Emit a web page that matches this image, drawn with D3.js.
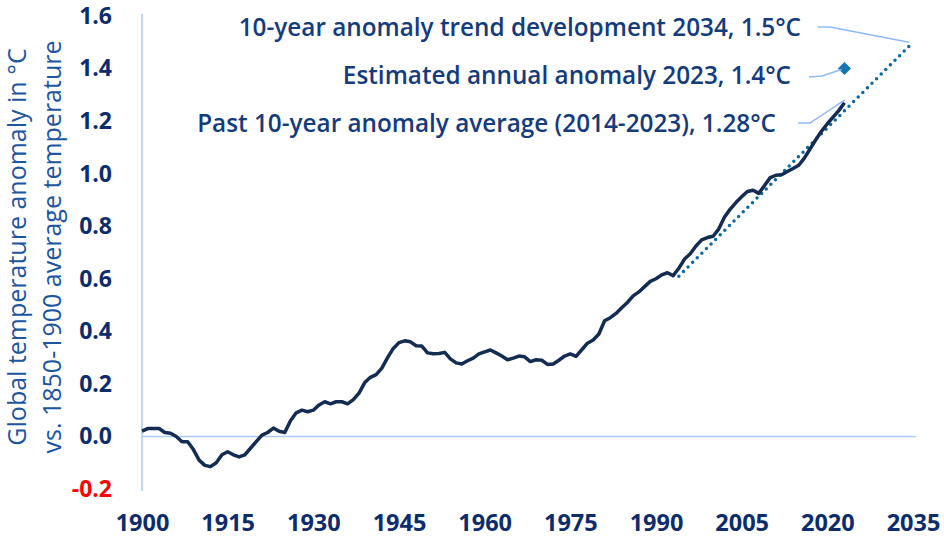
<!DOCTYPE html>
<html>
<head>
<meta charset="utf-8">
<script src="https://cdn.jsdelivr.net/npm/d3@7"></script>
<style>
  body { margin: 0; background: #fff; }
  svg { display: block; font-family: "Open Sans", sans-serif; }
</style>
</head>
<body>
<div id="chart"></div>
<script>
//Width and height
var w = 944;
var h = 541;

//10-year rolling anomaly, 1900-2023
var years = d3.range(1900, 2024);
var anomaly = [
  0.02, 0.03, 0.03, 0.03, 0.015, 0.012, 0.0, -0.02, -0.02, -0.05,
  -0.09, -0.11, -0.115, -0.10, -0.07, -0.058, -0.07, -0.078, -0.07, -0.045,
  -0.02, 0.005, 0.015, 0.032, 0.02, 0.015, 0.06, 0.09, 0.10, 0.094,
  0.10, 0.12, 0.132, 0.124, 0.132, 0.132, 0.124, 0.14, 0.165, 0.205,
  0.225, 0.235, 0.26, 0.30, 0.335, 0.357, 0.364, 0.36, 0.345, 0.344,
  0.318, 0.315, 0.316, 0.32, 0.295, 0.28, 0.276, 0.288, 0.298, 0.314,
  0.322, 0.329, 0.318, 0.306, 0.292, 0.298, 0.306, 0.303, 0.285, 0.292,
  0.29, 0.274, 0.276, 0.29, 0.306, 0.314, 0.305, 0.33, 0.355, 0.367,
  0.39, 0.44, 0.452, 0.468, 0.49, 0.51, 0.535, 0.55, 0.57, 0.59,
  0.60, 0.615, 0.623, 0.612, 0.64, 0.675, 0.695, 0.725, 0.748, 0.757,
  0.762, 0.79, 0.835, 0.865, 0.89, 0.912, 0.932, 0.937, 0.925, 0.955,
  0.985, 0.994, 0.996, 1.008, 1.02, 1.032, 1.06, 1.095, 1.13, 1.162,
  1.19, 1.215, 1.24, 1.27
];

//trend line and 2023 estimate
var trendYears = [1994, 2035];
var trendValues = [0.61, 1.5];
var estimateYear = 2023;
var estimateValue = 1.4;

//tick labels
var xTicks = [1900, 1915, 1930, 1945, 1960, 1975, 1990, 2005, 2020, 2035];
var yTicks = [-0.2, 0, 0.2, 0.4, 0.6, 0.8, 1.0, 1.2, 1.4, 1.6];

var x = d3.scaleLinear().domain([1900, 2035]).range([142, 913]);
var y = d3.scaleLinear().domain([-0.2, 1.6]).range([489, 16]);

//Create SVG element
var svg = d3.select("#chart")
  .append("svg")
  .attr("width", w)
  .attr("height", h);

//axis lines
svg.append("line")
  .attr("x1", x(1900)).attr("x2", x(1900))
  .attr("y1", y(1.6) - 2).attr("y2", y(-0.2) + 2)
  .attr("stroke", "#a9cbfb").attr("stroke-width", 1.5);

svg.append("line")
  .attr("x1", x(1900)).attr("x2", 916)
  .attr("y1", y(0)).attr("y2", y(0))
  .attr("stroke", "#a9cbfb").attr("stroke-width", 1.5);

//y axis labels (plain hyphen for the negative tick)
var yAxis = svg.append("g")
  .attr("transform", "translate(112,0)")
  .call(d3.axisLeft(y).tickValues(yTicks).tickSize(0).tickPadding(0)
    .tickFormat(function(d) { return d.toFixed(1); }));
yAxis.select(".domain").remove();
yAxis.selectAll("text")
  .attr("font-family", "Open Sans, sans-serif")
  .attr("font-size", "23px")
  .attr("font-weight", "bold")
  .attr("fill", function(d) { return d < 0 ? "#ff0000" : "#0d2c6c"; });

//x axis labels
var xAxis = svg.append("g")
  .attr("transform", "translate(0,514)")
  .call(d3.axisBottom(x).tickValues(xTicks).tickSize(0).tickPadding(0)
    .tickFormat(d3.format("d")));
xAxis.select(".domain").remove();
xAxis.selectAll("text")
  .attr("font-family", "Open Sans, sans-serif")
  .attr("font-size", "23.5px")
  .attr("font-weight", "bold")
  .attr("fill", "#0d2c6c");

//axis title
var title = svg.append("text")
  .attr("transform", "translate(0,247) rotate(-90)")
  .attr("text-anchor", "middle")
  .attr("font-size", "25px")
  .attr("font-weight", 500)
  .attr("fill", "#1c55a0");
title.append("tspan").attr("x", 0).attr("y", 26).text("Global temperature anomaly in °C");
title.append("tspan").attr("x", 0).attr("y", 61).text("vs. 1850-1900 average temperature");

//trend (dotted)
svg.append("line")
  .attr("x1", x(trendYears[0])).attr("y1", y(trendValues[0]))
  .attr("x2", x(trendYears[1])).attr("y2", y(trendValues[1]))
  .attr("stroke", "#0b6aa2")
  .attr("stroke-width", 3.5)
  .attr("stroke-linecap", "round")
  .attr("stroke-dasharray", "0 6.5");

//anomaly line
var line = d3.line()
  .x(function(d, i) { return x(years[i]); })
  .y(function(d) { return y(d); });

svg.append("path")
  .datum(anomaly)
  .attr("d", line)
  .attr("fill", "none")
  .attr("stroke", "#142b52")
  .attr("stroke-width", 3.5)
  .attr("stroke-linejoin", "round");

//2023 estimate marker
svg.append("path")
  .attr("d", d3.symbol().type(d3.symbolDiamond2).size(110))
  .attr("transform", "translate(" + x(estimateYear) + "," + y(estimateValue) + ")")
  .attr("fill", "#1278b4");

//annotations with leader lines
var notes = [
  { text: "10-year anomaly trend development 2034, 1.5°C", tx: 801, ty: 27,
    pts: [[818, 27], [830, 27], [x(2035) - 4, y(1.5)]] },
  { text: "Estimated annual anomaly 2023, 1.4°C", tx: 791, ty: 75,
    pts: [[809, 77], [822, 76], [x(estimateYear) - 3, y(estimateValue) + 1]] },
  { text: "Past 10-year anomaly average (2014-2023), 1.28°C", tx: 776, ty: 123,
    pts: [[798, 123], [810, 123], [x(2023), y(1.28)]] }
];

svg.selectAll(".leader")
  .data(notes)
  .enter()
  .append("polyline")
  .attr("points", function(d) { return d.pts.join(" "); })
  .attr("fill", "none")
  .attr("stroke", "#8fb9f7")
  .attr("stroke-width", 1.5);

svg.selectAll(".note")
  .data(notes)
  .enter()
  .append("text")
  .text(function(d) { return d.text; })
  .attr("x", function(d) { return d.tx; })
  .attr("y", function(d) { return d.ty; })
  .attr("dy", "0.35em")
  .attr("text-anchor", "end")
  .attr("font-size", "24.3px")
  .attr("font-weight", 600)
  .attr("fill", "#143c7c");
</script>
</body>
</html>
